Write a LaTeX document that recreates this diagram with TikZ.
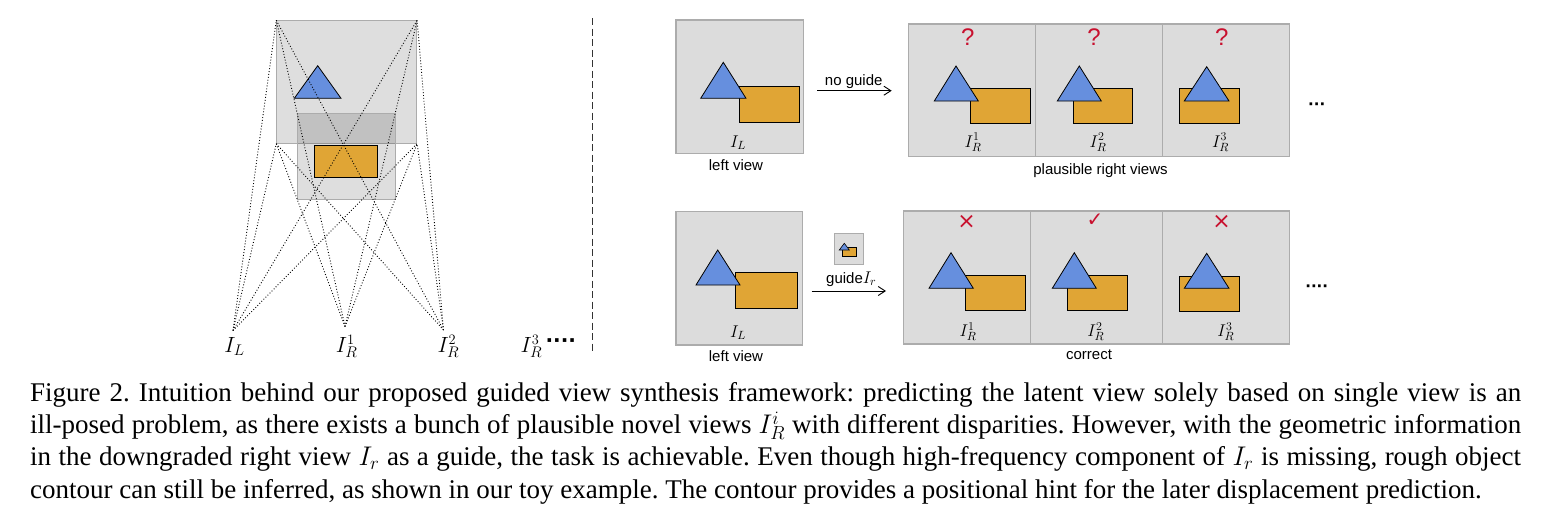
\documentclass[tikz,border=0pt]{standalone}
\usepackage{fontspec}
\setmainfont{Liberation Serif}
\newfontfamily\sansf{Liberation Sans}
\newfontfamily\djv{DejaVu Sans}
\DeclareFontShape{OML}{cmm}{m}{it}{<-6>cmmi5<6-7>cmmi6<7-8>cmmi7<8-9>cmmi8<9-10>cmmi9<10-12>cmmi10<12->cmmi12}{}
\usetikzlibrary{arrows.meta}
\definecolor{pgray}{RGB}{220,220,220}
\definecolor{bgray}{RGB}{172,172,172}
\definecolor{tblue}{RGB}{102,143,222}
\definecolor{rorange}{RGB}{224,165,53}
\definecolor{mred}{RGB}{200,16,46}
\frenchspacing
\begin{document}
\begin{tikzpicture}[x=1pt,y=-1pt,
  panel/.style={draw=bgray, fill=pgray, line width=1.2pt, inner sep=0pt},
  tri/.style={draw=black, fill=tblue, line width=0.8pt, line join=miter},
  box/.style={draw=black, fill=rorange, line width=0.8pt},
  ghost/.style={draw=bgray, fill=black, fill opacity=0.13, line width=0.8pt, inner sep=0pt},
  ray/.style={dotted, line width=0.9pt},
  lab/.style={font=\sansf\fontsize{15}{18}\selectfont, inner sep=0pt, anchor=base},
  mlab/.style={font=\fontsize{17}{20}\selectfont, inner sep=0pt, anchor=base},
  bigm/.style={font=\fontsize{22}{25}\selectfont, inner sep=0pt, anchor=base},
  qmark/.style={font=\sansf\fontsize{24}{26}\selectfont, text=mred, inner sep=0pt},
  xmark/.style={font=\djv\fontsize{22}{24}\selectfont, text=mred, inner sep=0pt},
  cmark/.style={font=\djv\fontsize{20}{22}\selectfont, text=mred, inner sep=0pt},
  arr/.style={-{Straight Barb[length=7pt,width=9pt]}, line width=0.9pt},
  capline/.style={font=\fontsize{27}{32}\selectfont, inner sep=0pt, anchor=base west}
]
\fill[white] (0,0) rectangle (1551,522);
\useasboundingbox (0,0) rectangle (1551,522);

% ---------- left diagram ----------
\node[ghost, minimum width=140pt, minimum height=122.6pt] (up) at (346.7,82) {};
\node[ghost, minimum width=98.4pt, minimum height=86pt] (low) at (346.5,156.3) {};
\draw[tri] (317.7,65.7) -- (341,98.3) -- (294.3,98.3) -- cycle;
\node[box, inner sep=0pt, minimum width=63.3pt, minimum height=32.3pt] (obox) at (345.7,161.2) {};

\coordinate (cL) at (233,330.5);
\coordinate (cR1) at (345,326.5);
\coordinate (cR2) at (443.5,330);
\foreach \c in {cL,cR1,cR2}{
  \foreach \k in {north west,north east,south west,south east}{
    \draw[ray] (\c) -- (up.\k);
  }
}
\node[bigm] (lIL) at (234.5,352.5) {$I_L$};
\node[bigm] (lIR1) at (346.7,352.5) {$I_R^1$};
\node[bigm] (lIR2) at (448.3,352.5) {$I_R^2$};
\node[bigm] (lIR3) at (531.5,352.5) {$I_R^3$};
\node[font=\djv\bfseries\fontsize{20}{22}\selectfont, inner sep=0pt] (ldots) at (560.8,343.3) {····};

\coordinate (dtop) at (592.3,18);
\coordinate (dbot) at (592.3,352);
\draw[dash pattern=on 7pt off 3.5pt, line width=1pt, black!80] (dtop) -- (dbot);

% ---------- top row ----------
\node[panel, minimum width=127.3pt, minimum height=133.3pt] (lv1) at (739.7,86.7) {};
\draw[box] (739.3,86.7) rectangle (799.3,122.3);
\draw[tri] (723.3,62.3) -- (746,98.3) -- (700.7,98.3) -- cycle;
\node[mlab] (lv1lab) at (738,147.3) {$I_L$};
\node[lab] (lv1cap) at (736,170) {left view};

\coordinate (a1s) at (817.3,90.7);
\coordinate (a1e) at (891.7,90.7);
\draw[arr] (a1s) -- (a1e);
\node[lab] (nog) at (853.7,85) {no guide};

\node[panel, minimum width=127pt, minimum height=132.7pt] (p11) at (972.2,90.3) {};
\node[panel, minimum width=126.6pt, minimum height=132.7pt] (p12) at (1099,90.3) {};
\node[panel, minimum width=127pt, minimum height=132.7pt] (p13) at (1225.8,90.3) {};

\draw[box] (970.7,88.3) rectangle (1030,123.3);
\draw[tri] (956,66) -- (978.3,101) -- (934.3,101) -- cycle;
\draw[box] (1073.3,88.3) rectangle (1132.3,123.3);
\draw[tri] (1079.3,66) -- (1101.3,101) -- (1057.3,101) -- cycle;
\draw[box] (1179.3,88.3) rectangle (1239,123.3);
\draw[tri] (1206.7,66.7) -- (1229,101) -- (1184.3,101) -- cycle;

\node[qmark] (q1) at (967.7,36.7) {?};
\node[qmark] (q2) at (1094,36.7) {?};
\node[qmark] (q3) at (1221.7,36.7) {?};

\node[mlab] (t1) at (973,147) {$I_R^1$};
\node[mlab] (t2) at (1098,147) {$I_R^2$};
\node[mlab] (t3) at (1220.5,147) {$I_R^3$};
\node[lab] (plaus) at (1100.5,174) {plausible right views};
\node[font=\djv\bfseries\fontsize{15}{17}\selectfont, inner sep=0pt] (tdots) at (1316.7,105.7) {···};

% ---------- bottom row ----------
\node[panel, minimum width=126.7pt, minimum height=133.3pt] (lv2) at (739.3,278.3) {};
\draw[box] (735.7,272.3) rectangle (797.7,308.3);
\draw[tri] (717.7,250) -- (740,285) -- (696,285) -- cycle;
\node[mlab] (lv2lab) at (738,337.3) {$I_L$};
\node[lab] (lv2cap) at (736,361.7) {left view};

\node[panel, line width=1pt, minimum width=29pt, minimum height=31pt] (gi) at (848.8,248.8) {};
\draw[box, line width=0.6pt] (842.7,247.7) rectangle (856.7,256);
\draw[tri, line width=0.6pt] (844.3,243.3) -- (849.3,250) -- (839.3,250) -- cycle;

\coordinate (a2s) at (811.7,291);
\coordinate (a2e) at (886,291);
\draw[arr] (a2s) -- (a2e);
\node[lab] (guid) at (851.3,283.3) {guide\fontsize{17}{20}\selectfont$I_r$};

\node[panel, minimum width=127.4pt, minimum height=133pt] (p21) at (967,277.5) {};
\node[panel, minimum width=131.6pt, minimum height=133pt] (p22) at (1096.5,277.5) {};
\node[panel, minimum width=127pt, minimum height=133pt] (p23) at (1225.8,277.5) {};

\draw[box] (965,275) rectangle (1025,310.7);
\draw[tri] (951,252.7) -- (973.3,288.3) -- (929,288.3) -- cycle;
\draw[box] (1067.7,275) rectangle (1127.3,310.7);
\draw[tri] (1074.3,252.7) -- (1096.3,288.3) -- (1052.3,288.3) -- cycle;
\draw[box] (1179.3,276) rectangle (1239,311.7);
\draw[tri] (1206.7,253.3) -- (1229,288.3) -- (1184.3,288.3) -- cycle;

\node[xmark] (x1) at (966.7,221.7) {×};
\node[cmark] (ck) at (1095,220) {✓};
\node[xmark] (x3) at (1221.7,221.7) {×};

\node[mlab] (b1) at (968,336.7) {$I_R^1$};
\node[mlab] (b2) at (1095.8,336.7) {$I_R^2$};
\node[mlab] (b3) at (1225.8,336.7) {$I_R^3$};
\node[lab] (corr) at (1089,359.3) {correct};
\node[font=\djv\bfseries\fontsize{15}{17}\selectfont, inner sep=0pt] (bdots) at (1316.7,288.3) {····};

% ---------- caption ----------
\node[capline] (cap1) at (30,401) {\makebox[1491pt][s]{Figure 2. Intuition behind our proposed guided view synthesis framework: predicting the latent view solely based on single view is an}};
\node[capline] (cap2) at (30,433.3) {\makebox[1491pt][s]{ill-posed problem, as there exists a bunch of plausible novel views $I_R^i$ with different disparities. However, with the geometric information}};
\node[capline] (cap3) at (30,465.6) {\makebox[1491pt][s]{in the downgraded right view $I_r$ as a guide, the task is achievable. Even though high-frequency component of $I_r$ is missing, rough object}};
\node[capline] (cap4) at (30,498) {contour can still be inferred, as shown in our toy example. The contour provides a positional hint for the later displacement prediction.};
\end{tikzpicture}
\end{document}
